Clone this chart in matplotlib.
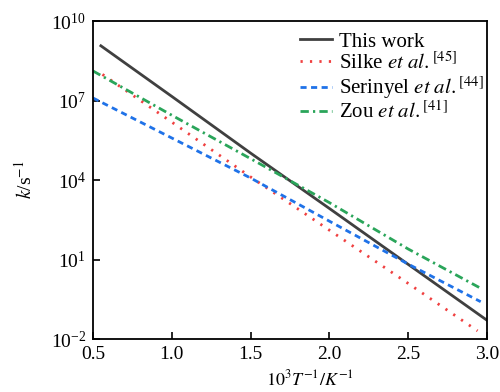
import numpy as np
import matplotlib
matplotlib.use("Agg")
import matplotlib.pyplot as plt

plt.rcParams['font.family'] = ['Liberation Serif', 'DejaVu Serif']
plt.rcParams['mathtext.fontset'] = 'stix'

# Data; log10(k / s^-1) vs 1000/T
x_this = [0.55, 1.0, 1.5, 2.0, 2.5, 3.0]
logk_this = [9.07, 7.16, 5.02, 2.93, 0.82, -1.29]

x_silke = [0.56, 1.0, 1.5, 2.0, 2.5, 2.94]
logk_silke = [7.99, 6.19, 4.12, 2.11, 0.10, -1.69]

x_serinyel = [0.5, 1.0, 1.5, 2.0, 2.5, 2.96]
logk_serinyel = [7.10, 5.59, 4.08, 2.45, 0.83, -0.59]

x_zou = [0.5, 1.0, 1.5, 2.0, 2.5, 2.95]
logk_zou = [8.12, 6.45, 4.81, 3.15, 1.40, -0.05]

labels = ['This work',
          r'Silke $et\ al.$$^{[45]}$',
          r'Serinyel $et\ al.$$^{[44]}$',
          r'Zou $et\ al.$$^{[41]}$']
xticks = [0.5, 1.0, 1.5, 2.0, 2.5, 3.0]
yticks = [1e-2, 1e1, 1e4, 1e7, 1e10]

fig = plt.figure(figsize=(5.0, 3.92), dpi=100)
ax = fig.add_axes([0.186, 0.135, 0.788, 0.811])

ax.plot(x_this, np.power(10.0, logk_this), color='#404040', lw=2.0, ls='-', label=labels[0])
ax.plot(x_silke, np.power(10.0, logk_silke), color='#f04040', lw=2.0, ls=(0, (0.8, 2.6)), label=labels[1])
ax.plot(x_serinyel, np.power(10.0, logk_serinyel), color='#1f72e8', lw=2.0, ls=(0, (2.2, 1.6)), label=labels[2])
ax.plot(x_zou, np.power(10.0, logk_zou), color='#2aa55a', lw=2.0, ls=(0, (3.0, 1.5, 0.8, 1.5)), label=labels[3])

ax.set_yscale('log')
ax.set_xlim(0.5, 3.0)
ax.set_ylim(1e-2, 1e10)
ax.set_xticks(xticks)
ax.set_xticklabels([f'{v:.1f}' for v in xticks])
ax.set_yticks(yticks)
ax.yaxis.set_minor_locator(matplotlib.ticker.NullLocator())
ax.tick_params(axis='both', which='major', direction='in', length=5, width=1.2,
               labelsize=14, top=False, right=False, pad=5)
for s in ax.spines.values():
    s.set_linewidth(1.3)

ax.set_xlabel(r'$10^3T^{-1}/K^{-1}$', fontsize=13, labelpad=4.5, x=0.55)
ax.set_ylabel(r'$k$/s$^{-1}$', fontsize=14, labelpad=11)

leg = ax.legend(loc='upper left', bbox_to_anchor=(0.525, 0.966), fontsize=15,
                frameon=False, handlelength=1.55, handletextpad=0.35,
                labelspacing=0.02, borderpad=0.0, borderaxespad=0.0)

fig.savefig('out.png', dpi=100)
